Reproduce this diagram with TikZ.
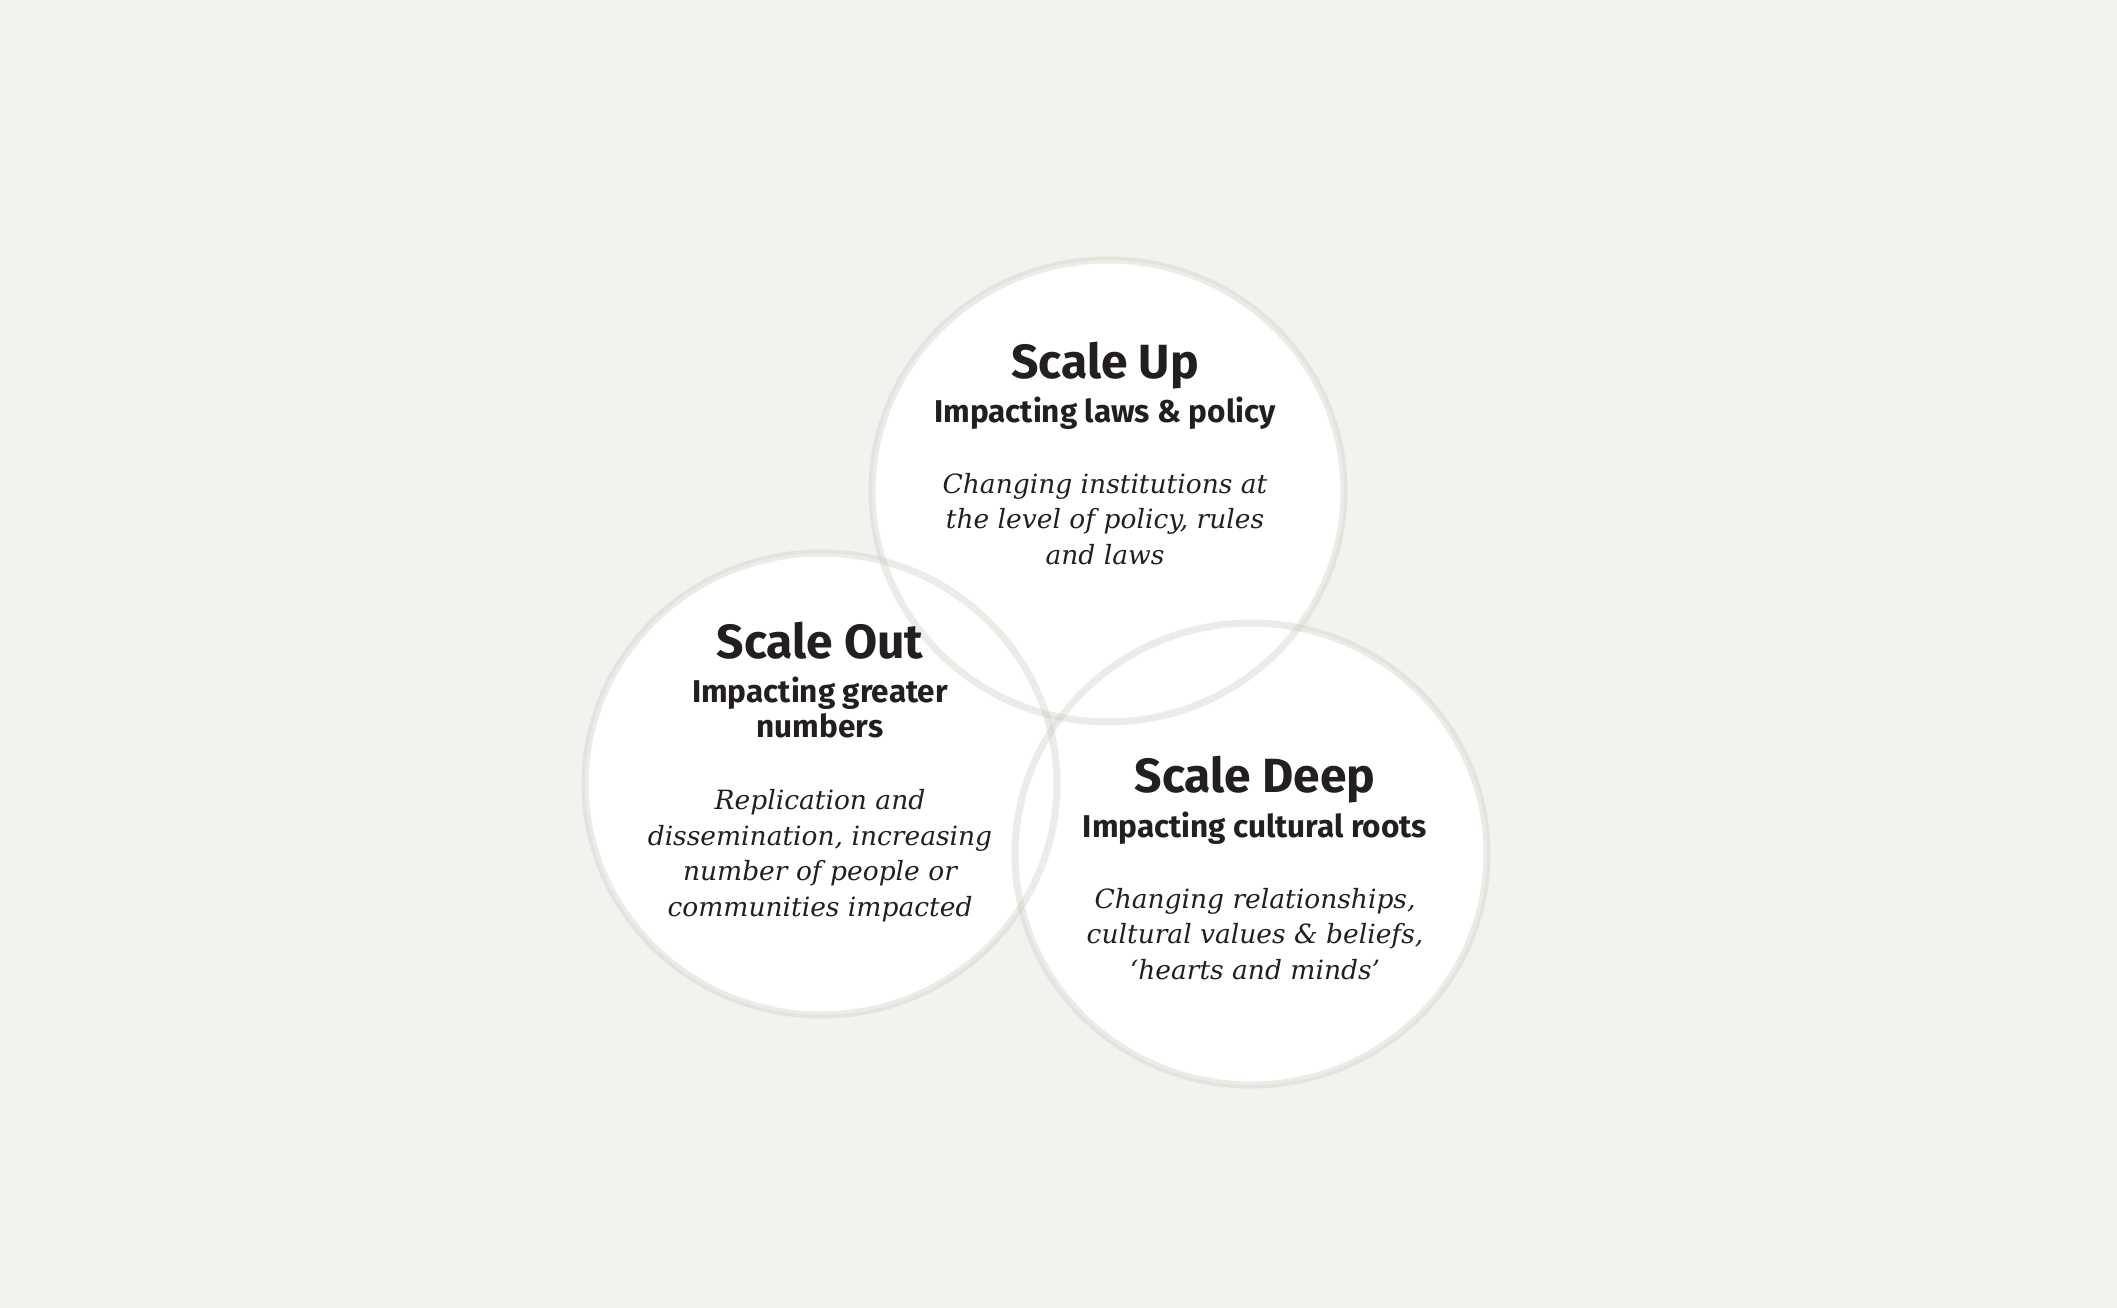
\documentclass[tikz,border=0pt]{standalone}
\usepackage{fontspec}
\setmainfont{DejaVu Serif}
\setsansfont{Fira Sans}
\usepackage{tikz}
\usetikzlibrary{positioning,shapes.geometric}
\definecolor{paper}{RGB}{242,242,238}
\definecolor{ringgrey}{RGB}{200,206,194}
\definecolor{ink}{RGB}{35,31,32}
\tikzstyle{disc}=[ellipse,fill=white,minimum width=472pt,minimum height=462pt,inner sep=0pt]
\tikzstyle{ring}=[draw=ringgrey,line width=7pt,draw opacity=.38]
\tikzstyle{heading}=[anchor=base,inner sep=0pt,text=ink,font=\sffamily\bfseries\fontsize{48}{56}\selectfont]
\tikzstyle{subhead}=[anchor=base,inner sep=0pt,text=ink,align=center,font=\sffamily\bfseries\fontsize{31.5}{35}\selectfont]
\tikzstyle{blurb}=[anchor=base,inner sep=0pt,text=ink,align=center,font=\itshape\fontsize{26.5}{35.5}\selectfont]

\begin{document}
\begin{tikzpicture}[x=1pt,y=-1pt]
        \fill[paper] (0,0) rectangle (2117,1308);
        \node[disc] (up) at (1108,491) {};
        \node[disc] (out) at (821,784) {};
        \node[disc] (deep) at (1251,854) {};
        \foreach \c in {up,out,deep}
          \draw[ring] (\c.center) ellipse [x radius=236pt,y radius=231pt];
        % scale up
        \node[heading] (uptitle) at (1105,378) {Scale Up};
        \node[subhead] (upsub) at (1105,422) {Impacting laws \& policy};
        \node[blurb] (uptext) at (1105,564) {Changing institutions at\\the level of policy, rules\\and laws};
        % scale out
        \node[heading] (outtitle) at (820,658) {Scale Out};
        \node[subhead] (outsub) at (820,737) {Impacting greater\\numbers};
        \node[blurb] (outtext) at (820,916) {Replication and\\dissemination, increasing\\number of people or\\communities impacted};
        % scale deep
        \node[heading] (deeptitle) at (1255,792) {Scale Deep};
        \node[subhead] (deepsub) at (1255,837) {Impacting cultural roots};
        \node[blurb] (deeptext) at (1255,979) {Changing relationships,\\cultural values \& beliefs,\\‘hearts and minds’};
      \end{tikzpicture}
\end{document}
